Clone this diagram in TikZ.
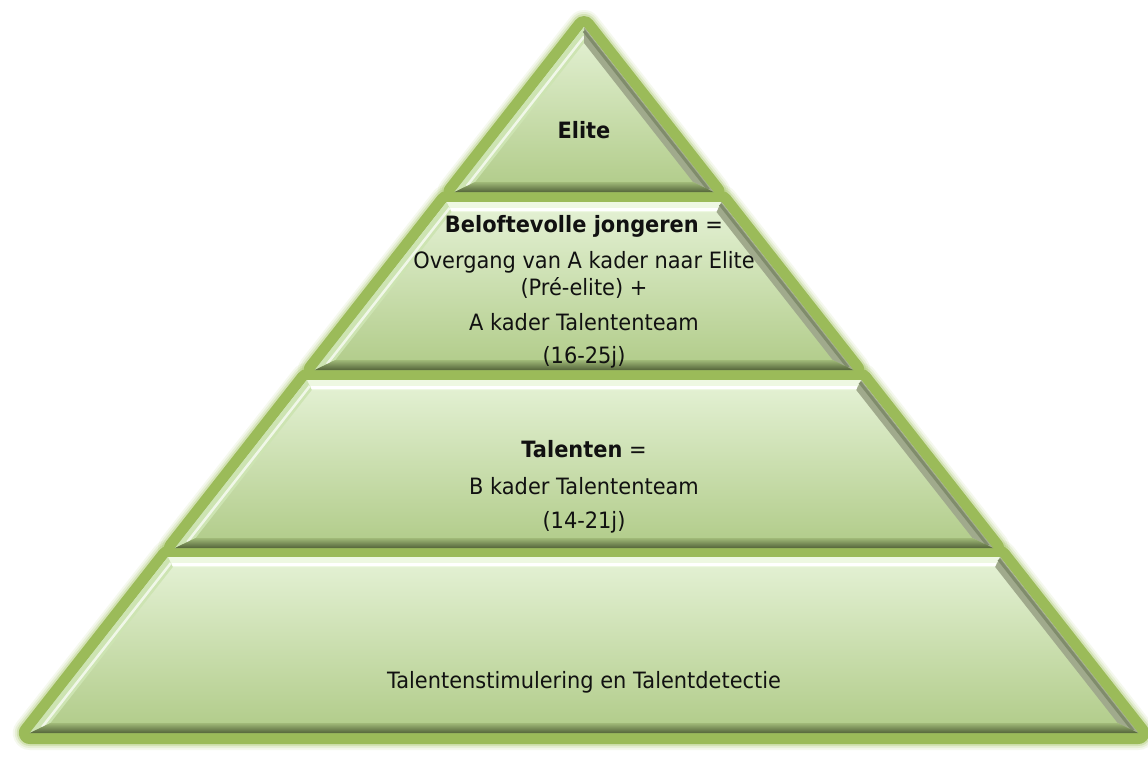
\documentclass[tikz,border=0pt]{standalone}
\usepackage{fontspec}
\setmainfont[FakeStretch=0.93]{DejaVu Sans}
\usetikzlibrary{calc}
\definecolor{pgreen}{RGB}{155,187,89}
\definecolor{pglow}{RGB}{175,204,118}
\definecolor{ftop}{RGB}{229,242,214}
\definecolor{fbot}{RGB}{176,203,136}
\definecolor{bevtop}{RGB}{238,248,226}
\definecolor{bevleft}{RGB}{205,228,178}
\definecolor{bevright}{RGB}{160,170,140}
\definecolor{bevrightdk}{RGB}{128,140,108}
\definecolor{bevbotA}{RGB}{160,185,120}
\definecolor{bevbotB}{RGB}{84,100,58}
\definecolor{txt}{RGB}{17,17,17}
\tikzset{
  glowA/.style={draw=pglow,line width=34pt,line join=round,opacity=0.12},
  glowB/.style={draw=pglow,line width=30pt,line join=round,opacity=0.2},
  glowC/.style={draw=pglow,line width=26pt,line join=round,opacity=0.35},
  greenline/.style={draw=pgreen,line width=22pt,line join=round},
  bandfill/.style={top color=ftop,bottom color=fbot,draw=none},
  lbl/.style={anchor=base,inner sep=0pt,font=\fontsize{22.5}{26}\selectfont,text=txt},
}
\newcommand{\pyrpath}[2]{%
  \pgfmathsetmacro{\pXlt}{584-0.785*(#1-27)}%
  \pgfmathsetmacro{\pXrt}{1168-\pXlt}%
  \pgfmathsetmacro{\pXlb}{584-0.785*(#2-27)}%
  \pgfmathsetmacro{\pXrb}{1168-\pXlb}%
}
\newcommand{\pyrtrap}[2]{%
  \pyrpath{#1}{#2}%
  \pgfmathsetmacro{\pTi}{#1+10}%
  \pgfmathsetmacro{\pBi}{#2-10}%
  \pgfmathsetmacro{\pXlti}{584-0.785*(\pTi-27)+12.7}%
  \pgfmathsetmacro{\pXrti}{1168-\pXlti}%
  \pgfmathsetmacro{\pXlbi}{584-0.785*(\pBi-27)+12.7}%
  \pgfmathsetmacro{\pXrbi}{1168-\pXlbi}%
  \coordinate (TL) at (\pXlt,#1);
  \coordinate (TR) at (\pXrt,#1);
  \coordinate (BL) at (\pXlb,#2);
  \coordinate (BR) at (\pXrb,#2);
  \coordinate (TLi) at (\pXlti,\pTi);
  \coordinate (TRi) at (\pXrti,\pTi);
  \coordinate (BLi) at (\pXlbi,\pBi);
  \coordinate (BRi) at (\pXrbi,\pBi);
  \shade[bandfill] (TL)--(TR)--(BR)--(BL)--cycle;
  \fill[bevtop] (TL)--(TR)--(TRi)--(TLi)--cycle;
  \draw[white,line width=2.5pt] ($(TL)!0.75!(TLi)$)--($(TR)!0.75!(TRi)$);
  \fill[bevleft] (TL)--(TLi)--(BLi)--(BL)--cycle;
  \draw[white!70!bevleft,line width=2.5pt] ($(TL)!0.6!(TLi)$)--($(BL)!0.6!(BLi)$);
  \fill[bevright] (TR)--(BR)--(BRi)--(TRi)--cycle;
  \draw[bevrightdk,line width=3pt] ($(TR)!0.25!(TRi)$)--($(BR)!0.25!(BRi)$);
  \shade[top color=bevbotA,bottom color=bevbotB] (BL)--(BR)--(BRi)--(BLi)--cycle;
}
\newcommand{\pyrframe}[1]{%
  \draw[#1] (584,27)--(454.5,192)--(713.5,192)--cycle;
  \foreach \t/\b in {202/370,380/548,557/733}{
    \pyrpath{\t}{\b}
    \draw[#1] (\pXlt,\t)--(\pXrt,\t)--(\pXrb,\b)--(\pXlb,\b)--cycle;
  }
}
\begin{document}
\begin{tikzpicture}[x=1pt,y=-1pt]
\useasboundingbox[fill=white] (0,0) rectangle (1148,756);
% glow + green frames
\pyrframe{glowA}
\pyrframe{glowB}
\pyrframe{glowC}
\pyrframe{greenline}
% top triangle band
\coordinate (A) at (584,27);
\coordinate (Ai) at (584,43);
\coordinate (L1) at (454.5,192);
\coordinate (R1) at (713.5,192);
\coordinate (L1i) at (475.0,182);
\coordinate (R1i) at (693.0,182);
\shade[bandfill] (A)--(R1)--(L1)--cycle;
\fill[bevleft] (A)--(Ai)--(L1i)--(L1)--cycle;
\draw[white!70!bevleft,line width=2.5pt] ($(A)!0.6!(Ai)$)--($(L1)!0.6!(L1i)$);
\fill[bevright] (A)--(R1)--(R1i)--(Ai)--cycle;
\draw[bevrightdk,line width=3pt] ($(A)!0.25!(Ai)$)--($(R1)!0.25!(R1i)$);
\shade[top color=bevbotA,bottom color=bevbotB] (L1)--(R1)--(R1i)--(L1i)--cycle;
% other bands
\pyrtrap{202}{370}
\pyrtrap{380}{548}
\pyrtrap{557}{733}
% labels
\node[lbl] (elite) at (584,138) {\textbf{Elite}};
\node[lbl] (bel) at (584,232) {\textbf{Beloftevolle jongeren} =};
\node[lbl] (over) at (584,268) {Overgang van A kader naar Elite};
\node[lbl] (pre) at (584,295) {(Pré-elite) +};
\node[lbl] (akader) at (584,330) {A kader Talententeam};
\node[lbl] (age1) at (584,363) {(16-25j)};
\node[lbl] (tal) at (584,457) {\textbf{Talenten} =};
\node[lbl] (bkader) at (584,494) {B kader Talententeam};
\node[lbl] (age2) at (584,528) {(14-21j)};
\node[lbl] (stim) at (584,688) {Talentenstimulering en Talentdetectie};
\end{tikzpicture}
\end{document}
